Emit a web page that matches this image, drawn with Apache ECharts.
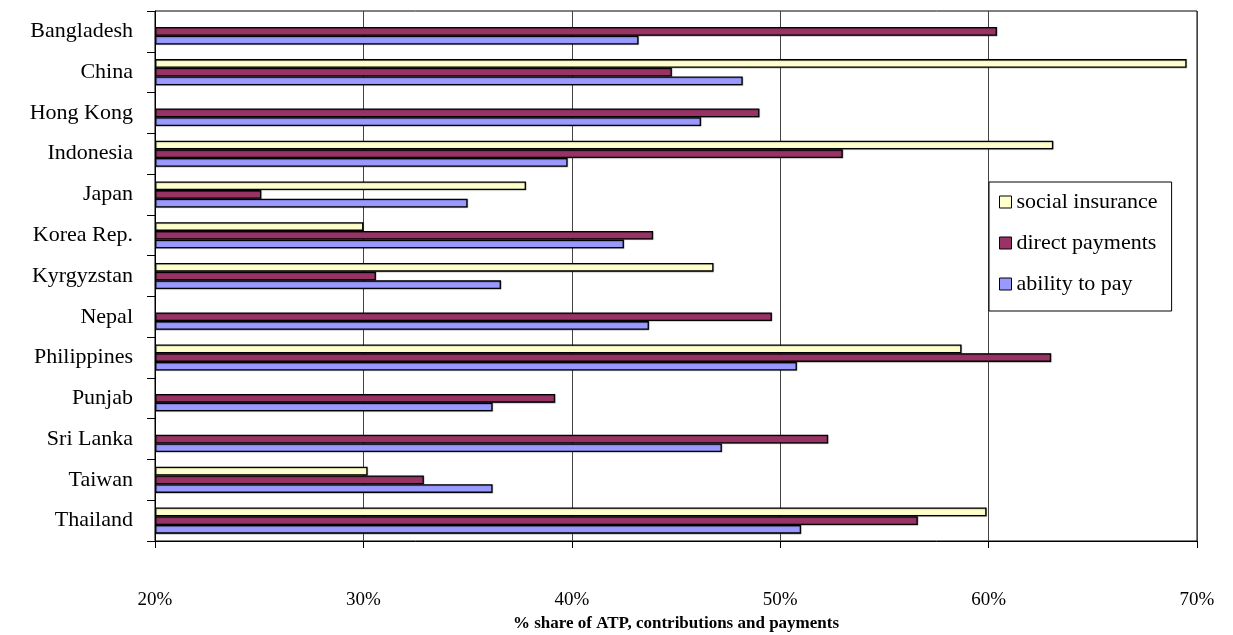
<!DOCTYPE html>
<html>
<head>
<meta charset="utf-8">
<title>% share of ATP, contributions and payments</title>
<script src="https://cdn.jsdelivr.net/npm/echarts@6/dist/echarts.min.js"></script>
<style>
  html, body { margin: 0; padding: 0; background: #fff; }
  #chart { width: 1233px; height: 635px; }
</style>
</head>
<body>
<div id="chart"></div>
<script>
// Countries, top to bottom
const countries = ['Bangladesh', 'China', 'Hong Kong', 'Indonesia', 'Japan', 'Korea Rep.',
  'Kyrgyzstan', 'Nepal', 'Philippines', 'Punjab', 'Sri Lanka', 'Taiwan', 'Thailand'];

// Shares in percent; null where a country has no value for that financing source
const socialInsurance = [null, 69.5, null, 63.1, 37.8, 30.0, 46.8, null, 58.7, null, null, 30.2, 59.9];
const directPayments  = [60.4, 44.8, 49.0, 53.0, 25.1, 43.9, 30.6, 49.6, 63.0, 39.2, 52.3, 32.9, 56.6];
const abilityToPay    = [43.2, 48.2, 46.2, 39.8, 35.0, 42.5, 36.6, 43.7, 50.8, 36.2, 47.2, 36.2, 51.0];

const seriesNames = ['social insurance', 'direct payments', 'ability to pay'];
const seriesColors = ['#FFFFCC', '#993366', '#9999FF'];
const seriesData = [socialInsurance, directPayments, abilityToPay];

const axisTitle = '% share of ATP, contributions and payments';
const serif = '"Liberation Serif", "Times New Roman", serif';

const chart = echarts.init(document.getElementById('chart'), null, { renderer: 'canvas' });

chart.setOption({
  animation: false,
  backgroundColor: '#fff',
  grid: {
    left: 155, right: 36, top: 11, bottom: 94,
    containLabel: false,
    outerBoundsMode: 'none',
    show: true, borderColor: '#000', borderWidth: 1, backgroundColor: 'transparent'
  },
  legend: {
    data: seriesNames,
    orient: 'vertical',
    left: 989, top: 182,
    padding: [9, 14, 16, 10],
    itemGap: 19,
    itemWidth: 12, itemHeight: 12,
    itemStyle: { borderColor: '#000', borderWidth: 1, shadowBlur: 0, shadowOffsetX: 0, shadowOffsetY: 0 },
    backgroundColor: '#fff',
    borderColor: '#000', borderWidth: 1,
    textStyle: { fontFamily: serif, fontSize: 22, color: '#000', lineHeight: 20 },
    itemTextGap: 7,
    icon: 'rect',
    selectedMode: false
  },
  xAxis: {
    type: 'value',
    min: 20, max: 70, interval: 10,
    startValue: 20,
    name: axisTitle,
    nameLocation: 'middle',
    nameGap: 73,
    nameTextStyle: { fontFamily: serif, fontSize: 17, fontWeight: 'bold', color: '#000' },
    axisLine: { show: true, lineStyle: { color: '#000', width: 1 } },
    axisTick: { show: true, length: 7, lineStyle: { color: '#000' } },
    axisLabel: { formatter: '{value}%', fontFamily: serif, fontSize: 19, color: '#000', margin: 50 },
    splitLine: { show: true, lineStyle: { color: '#444', width: 1 } }
  },
  yAxis: {
    type: 'category',
    data: countries,
    inverse: true,
    axisLine: { show: true, lineStyle: { color: '#000', width: 1 } },
    axisTick: { show: true, length: 8, lineStyle: { color: '#000' } },
    axisLabel: { fontFamily: serif, fontSize: 22, color: '#000', margin: 22 },
    splitLine: { show: false }
  },
  series: seriesNames.map((name, i) => ({
    name: name,
    type: 'bar',
    data: seriesData[i],
    barGap: '0%',
    barCategoryGap: '36%',
    itemStyle: {
      color: seriesColors[i],
      borderColor: '#000',
      borderWidth: 1.3,
      shadowColor: 'rgba(0,0,0,0.35)',
      shadowBlur: 1,
      shadowOffsetX: 0.5,
      shadowOffsetY: 0.5
    }
  }))
});
</script>
</body>
</html>
